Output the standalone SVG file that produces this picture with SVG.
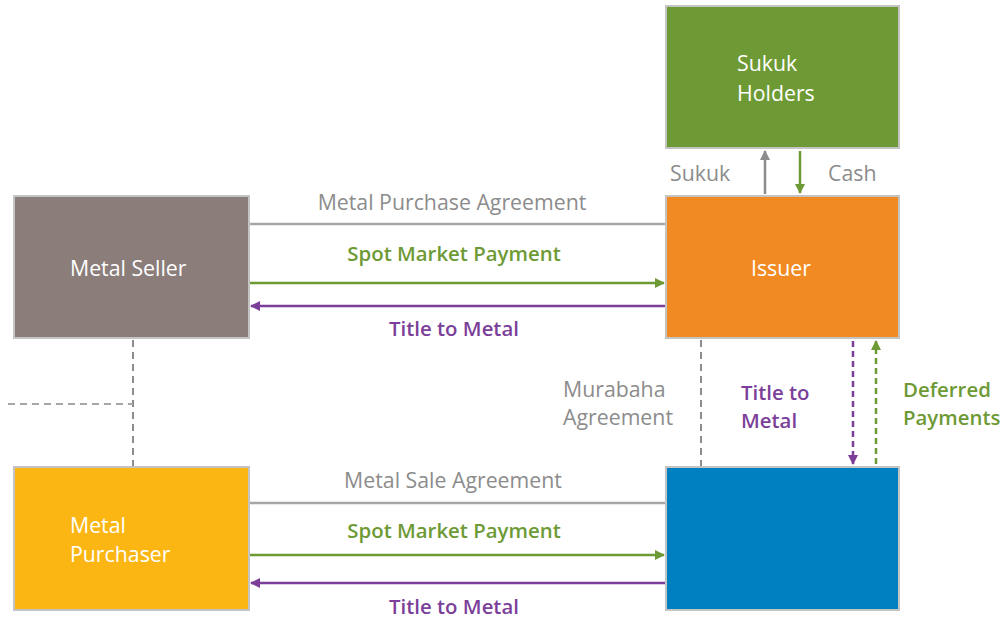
<svg xmlns="http://www.w3.org/2000/svg" width="1001" height="618" viewBox="0 0 1001 618">
<style>
.box{stroke:#c4c4c4;stroke-width:2}
.nl{font-family:"Open Sans","Noto Sans",sans-serif;font-size:21.3px;fill:#ffffff}
.lbl{font-family:"Open Sans","Noto Sans",sans-serif;font-size:21.3px}
.g{fill:#8c8c8c}
.gr{fill:#6e9a36}
.pu{fill:#7b3f99}
.b{font-weight:600;font-size:20.4px}
</style>
<defs>
<marker id="ag" markerWidth="10" markerHeight="10" refX="9" refY="5" orient="auto" markerUnits="userSpaceOnUse" viewBox="0 0 10 10"><path d="M0,0 L10,5 L0,10 z" fill="#6e9a36"/></marker>
<marker id="ap" markerWidth="10" markerHeight="10" refX="9" refY="5" orient="auto" markerUnits="userSpaceOnUse" viewBox="0 0 10 10"><path d="M0,0 L10,5 L0,10 z" fill="#7b3f99"/></marker>
<marker id="agy" markerWidth="10" markerHeight="10" refX="9" refY="5" orient="auto" markerUnits="userSpaceOnUse" viewBox="0 0 10 10"><path d="M0,0 L10,5 L0,10 z" fill="#8c8c8c"/></marker>
</defs>
<rect width="1001" height="618" fill="#ffffff"/>
<g id="sukuk-holders"><rect class="box" x="666" y="6" width="233" height="142" fill="#6e9a36"/><text class="nl" x="737" y="71">Sukuk</text><text class="nl" x="737" y="101">Holders</text></g>
<g id="issuer"><rect class="box" x="666" y="196" width="233" height="142" fill="#f18a22"/><text class="nl" x="781" y="276" text-anchor="middle">Issuer</text></g>
<g id="metal-seller"><rect class="box" x="14" y="196" width="235" height="142" fill="#8b7d7a"/><text class="nl" x="70" y="276">Metal Seller</text></g>
<g id="metal-purchaser"><rect class="box" x="14" y="467" width="235" height="143" fill="#fbb614"/><text class="nl" x="70" y="533">Metal</text><text class="nl" x="70" y="562">Purchaser</text></g>
<g id="spv"><rect class="box" x="666" y="467" width="233" height="143" fill="#0080c0"/></g>
<g id="connectors" fill="none" stroke-width="2.5">
<line x1="250" y1="224" x2="665" y2="224" stroke="#a6a6a6"/>
<line x1="250" y1="283" x2="664" y2="283" stroke="#6e9a36" marker-end="url(#ag)"/>
<line x1="665" y1="306" x2="251" y2="306" stroke="#7b3f99" marker-end="url(#ap)"/>
<line x1="250" y1="503" x2="665" y2="503" stroke="#a6a6a6"/>
<line x1="250" y1="555" x2="664" y2="555" stroke="#6e9a36" marker-end="url(#ag)"/>
<line x1="665" y1="583" x2="251" y2="583" stroke="#7b3f99" marker-end="url(#ap)"/>
<line x1="765" y1="194" x2="765" y2="151" stroke="#8c8c8c" marker-end="url(#agy)"/>
<line x1="800" y1="151" x2="800" y2="193" stroke="#6e9a36" marker-end="url(#ag)"/>
<line x1="133" y1="340" x2="133" y2="466" stroke="#8c8c8c" stroke-width="2" stroke-dasharray="7,5"/>
<line x1="8" y1="404" x2="133" y2="404" stroke="#a6a6a6" stroke-width="2" stroke-dasharray="7,5"/>
<line x1="701" y1="340" x2="701" y2="466" stroke="#8c8c8c" stroke-width="2" stroke-dasharray="7,5"/>
<line x1="853" y1="341" x2="853" y2="464" stroke="#7b3f99" stroke-dasharray="6,4" marker-end="url(#ap)"/>
<line x1="876" y1="464" x2="876" y2="341" stroke="#6e9a36" stroke-dasharray="6,4" marker-end="url(#ag)"/>
</g>
<g id="labels" class="lbl">
<text class="g" x="452" y="210" text-anchor="middle">Metal Purchase Agreement</text>
<text class="gr b" x="454" y="261" text-anchor="middle">Spot Market Payment</text>
<text class="pu b" x="454" y="336" text-anchor="middle">Title to Metal</text>
<text class="g" x="453" y="488" text-anchor="middle">Metal Sale Agreement</text>
<text class="gr b" x="454" y="538" text-anchor="middle">Spot Market Payment</text>
<text class="pu b" x="454" y="614" text-anchor="middle">Title to Metal</text>
<text class="g" x="670" y="181">Sukuk</text>
<text class="g" x="828" y="181">Cash</text>
<text class="g" x="563" y="397">Murabaha</text>
<text class="g" x="563" y="425">Agreement</text>
<text class="pu b" x="741" y="400">Title to</text>
<text class="pu b" x="741" y="428">Metal</text>
<text class="gr b" x="903" y="397">Deferred</text>
<text class="gr b" x="903" y="425">Payments</text>
</g>
</svg>
